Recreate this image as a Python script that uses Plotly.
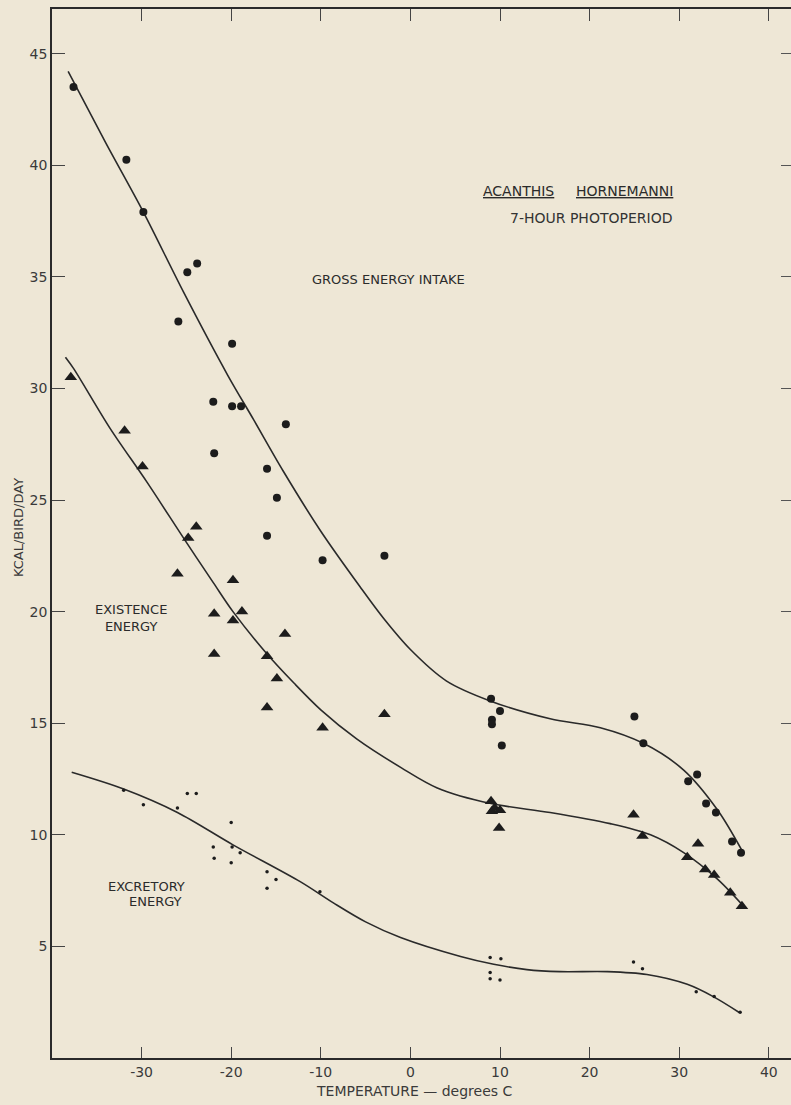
import plotly.graph_objects as go

# Gross energy intake (filled circles) and its fitted curve
gross_x = [-37.6, -31.7, -29.8, -24.9, -23.8, -25.9, -19.9, -22.0, -19.9, -18.9,
           -13.9, -21.9, -16.0, -14.9, -16.0, -9.8, -2.9, 9.0, 10.0, 9.1,
           9.1, 10.2, 25.0, 26.0, 32.0, 31.0, 33.0, 34.1, 35.9, 36.9]
gross_y = [43.5, 40.25, 37.9, 35.2, 35.6, 33.0, 32.0, 29.4, 29.2, 29.2,
           28.4, 27.1, 26.4, 25.1, 23.4, 22.3, 22.5, 16.1, 15.55, 15.15,
           14.95, 14.0, 15.3, 14.1, 12.7, 12.4, 11.4, 11.0, 9.7, 9.2]
gross_fit_x = [-38.2, -34.0, -29.8, -25.3, -20.4, -17.5, -14.2, -10.0, -5.6, -3.0,
               0.0, 4.0, 8.9, 15.6, 21.2, 26.0, 30.5, 34.3, 37.0]
gross_fit_y = [44.2, 41.0, 37.9, 34.3, 30.6, 28.6, 26.3, 23.6, 21.1, 19.7,
               18.3, 16.9, 16.0, 15.2, 14.8, 14.1, 12.9, 11.1, 9.3]

# Existence energy (filled triangles) and its fitted curve
exist_x = [-37.9, -31.9, -29.9, -23.9, -24.8, -26.0, -19.8, -21.9, -18.8, -19.8,
           -14.0, -21.9, -16.0, -14.9, -16.0, -9.8, -2.9, 9.0, 9.1, 9.4,
           10.0, 9.9, 24.9, 25.9, 32.1, 30.9, 32.9, 33.9, 35.7, 37.0]
exist_y = [30.5, 28.1, 26.5, 23.8, 23.3, 21.7, 21.4, 19.9, 20.0, 19.6,
           19.0, 18.1, 18.0, 17.0, 15.7, 14.8, 15.4, 11.5, 11.05, 11.2,
           11.1, 10.3, 10.9, 9.95, 9.6, 9.0, 8.45, 8.2, 7.4, 6.8]
exist_fit_x = [-38.5, -37.6, -33.5, -29.4, -25.0, -22.0, -19.8, -16.0, -13.0,
               -10.0, -6.0, -1.0, 3.0, 9.0, 15.6, 22.3, 26.8, 30.5, 34.3, 37.4]
exist_fit_y = [31.4, 30.9, 28.2, 25.8, 23.1, 21.3, 20.0, 18.1, 16.8,
               15.6, 14.3, 13.0, 12.1, 11.4, 11.0, 10.5, 10.0, 9.2, 8.0, 6.7]

# Excretory energy (small dots) and its fitted curve
excr_x = [-32.0, -29.8, -26.0, -24.9, -23.9, -20.0, -22.0, -19.9, -19.0, -21.9,
          -20.0, -16.0, -15.0, -16.0, -10.1, 8.9, 10.1, 8.9, 8.9, 10.0,
          24.9, 25.9, 31.9, 33.9, 36.8]
excr_y = [12.0, 11.35, 11.2, 11.85, 11.85, 10.55, 9.45, 9.45, 9.2, 8.95,
          8.75, 8.35, 8.0, 7.6, 7.45, 4.5, 4.45, 3.83, 3.55, 3.5,
          4.3, 4.0, 2.97, 2.75, 2.05]
excr_fit_x = [-37.8, -32.0, -26.0, -19.8, -12.3, -8.6, -5.0, -1.1, 5.6, 9.3, 13.0,
              16.7, 22.0, 26.4, 30.9, 33.8, 36.7]
excr_fit_y = [12.8, 12.05, 11.0, 9.55, 7.9, 6.95, 6.1, 5.4, 4.55, 4.2, 3.96,
              3.87, 3.87, 3.74, 3.3, 2.75, 2.04]

x_ticks = [-30, -20, -10, 0, 10, 20, 30, 40]
x_tick_text = ["-30", "-20", "-10", "0", "10", "20", "30", "40"]
y_ticks = [5, 10, 15, 20, 25, 30, 35, 40, 45]
y_tick_text = ["5", "10", "15", "20", "25", "30", "35", "40", "45"]

# frame runs slightly past the right edge of the page, like a cropped sheet
X_RANGE = [-40, 42.7]
Y_RANGE = [0, 47]

BG = "#EEE7D6"
INK = "#2a2a2a"
TXT = "#3a3a3a"
FONT = "DejaVu Sans"

fig = go.Figure()

line_style = dict(color=INK, width=1.6, shape="spline", smoothing=0.9)
for fx, fy in [(gross_fit_x, gross_fit_y), (exist_fit_x, exist_fit_y), (excr_fit_x, excr_fit_y)]:
    fig.add_trace(go.Scatter(x=fx, y=fy, mode="lines", line=line_style,
                             hoverinfo="skip", showlegend=False))

fig.add_trace(go.Scatter(x=gross_x, y=gross_y, mode="markers",
                         marker=dict(symbol="circle", size=8, color="#1c1c1c"),
                         showlegend=False))
fig.add_trace(go.Scatter(x=exist_x, y=exist_y, mode="markers",
                         marker=dict(symbol="triangle-up", size=11, color="#1c1c1c"),
                         showlegend=False))
fig.add_trace(go.Scatter(x=excr_x, y=excr_y, mode="markers",
                         marker=dict(symbol="circle", size=3.5, color="#1c1c1c"),
                         showlegend=False))

# invisible trace bound to the top / right tick axes so they are rendered
fig.add_trace(go.Scatter(x=[0], y=[0], xaxis="x2", yaxis="y2", mode="markers",
                         marker=dict(opacity=0), hoverinfo="skip", showlegend=False))

fig.update_layout(
    width=793, height=1105,
    margin=dict(l=52, r=0, t=9, b=47),
    paper_bgcolor=BG, plot_bgcolor=BG,
    font=dict(family=FONT, color=TXT, size=14),
    xaxis=dict(range=X_RANGE, tickvals=x_ticks, ticktext=x_tick_text,
               ticks="inside", ticklen=11, tickwidth=1.3, tickcolor="#444",
               showline=True, linecolor=INK, linewidth=1.6, mirror=False,
               showgrid=False, zeroline=False,
               tickfont=dict(family=FONT, size=14, color=TXT)),
    yaxis=dict(range=Y_RANGE, tickvals=y_ticks, ticktext=y_tick_text,
               ticks="inside", ticklen=13, tickwidth=1.3, tickcolor="#444",
               showline=True, linecolor=INK, linewidth=1.6, mirror=False,
               showgrid=False, zeroline=False,
               tickfont=dict(family=FONT, size=14, color=TXT)),
    xaxis2=dict(range=X_RANGE, overlaying="x", side="top", anchor="y2",
                tickvals=x_ticks, ticks="inside", ticklen=12, tickwidth=1.3,
                tickcolor="#444", showticklabels=False,
                showline=True, linecolor=INK, linewidth=1.6,
                showgrid=False, zeroline=False),
    yaxis2=dict(range=Y_RANGE, overlaying="y", side="right", anchor="x2",
                tickvals=y_ticks, ticks="inside", ticklen=12, tickwidth=1.3,
                tickcolor="#555", showticklabels=False, showline=False,
                showgrid=False, zeroline=False),
)

ann = []
ann.append(dict(text="GROSS ENERGY INTAKE", x=-2.5, y=34.9, xref="x", yref="y",
                showarrow=False, font=dict(family=FONT, size=13, color="#2b2b2b")))
ann.append(dict(text="ACANTHIS", x=12.1, y=38.85, xref="x", yref="y",
                showarrow=False,
                font=dict(family=FONT, size=14, color="#2b2b2b", lineposition="under")))
ann.append(dict(text="HORNEMANNI", x=23.9, y=38.85, xref="x", yref="y",
                showarrow=False,
                font=dict(family=FONT, size=14, color="#2b2b2b", lineposition="under")))
ann.append(dict(text="7-HOUR PHOTOPERIOD", x=20.2, y=37.65, xref="x", yref="y",
                showarrow=False, font=dict(family=FONT, size=14, color="#333")))
ann.append(dict(text="EXISTENCE<br>ENERGY", x=-31.2, y=19.7, xref="x", yref="y",
                showarrow=False, align="center",
                font=dict(family=FONT, size=13, color="#2b2b2b")))
ann.append(dict(text="EXCRETORY", x=-29.5, y=7.68, xref="x", yref="y",
                showarrow=False, font=dict(family=FONT, size=13, color="#2b2b2b")))
ann.append(dict(text="ENERGY", x=-28.5, y=7.0, xref="x", yref="y",
                showarrow=False, font=dict(family=FONT, size=13, color="#2b2b2b")))
ann.append(dict(text="KCAL/BIRD/DAY", x=-0.046, y=0.506, xref="paper", yref="paper",
                textangle=-90, showarrow=False, xanchor="center", yanchor="middle",
                font=dict(family=FONT, size=13, color=TXT)))
ann.append(dict(text="TEMPERATURE \u2014 degrees C", x=0.489, y=-0.0315,
                xref="paper", yref="paper", showarrow=False,
                xanchor="center", yanchor="middle",
                font=dict(family=FONT, size=14, color=TXT)))
fig.update_layout(annotations=ann)

# keep the page itself from scrolling and match its background to the figure
page_js = (
    "document.documentElement.style.overflow='hidden';"
    "document.body.style.overflow='hidden';"
    "document.body.style.margin='0';"
    "document.body.style.background='" + BG + "';"
)
fig.write_html("out.html", post_script=page_js)
